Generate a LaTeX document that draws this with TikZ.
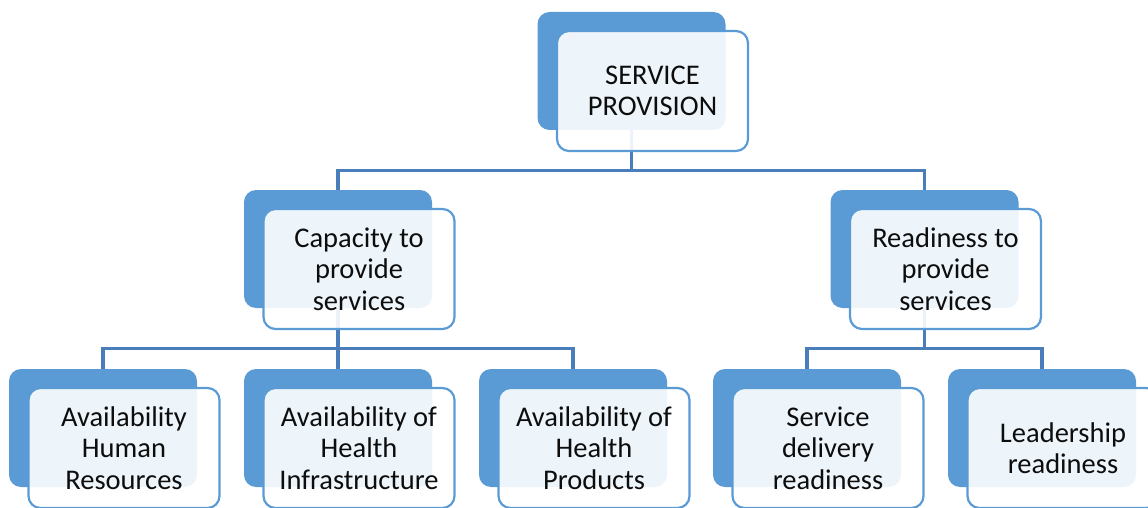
\documentclass[tikz,border=0pt]{standalone}
\usepackage{fontspec}
\setmainfont{Carlito}
\definecolor{boxblue}{HTML}{5B9BD5}
\definecolor{linkblue}{HTML}{4A7EBB}
\definecolor{txtgrey}{HTML}{0D0D0D}
\tikzset{
    backbox/.style={draw=none, fill=boxblue, rounded corners=12pt,
        minimum width=188pt, minimum height=118pt, inner sep=0pt},
    frontbox/.style={draw=boxblue, line width=2.2pt, fill=white, fill opacity=0.9,
        text opacity=1, rounded corners=12pt, minimum width=191pt, minimum height=120pt,
        align=center, text=txtgrey, font=\fontsize{28.5}{31.5}\selectfont},
    link/.style={draw=linkblue, line width=3.2pt}
}
\begin{document}
\begin{tikzpicture}[x=1pt,y=-1pt]
                \useasboundingbox (0,0) rectangle (1148,508);
                \clip (0,0) rectangle (1148,508);

                % back boxes
                \node[backbox] (sp-back) at (631.5,71) {};
                \node[backbox] (cap-back) at (338,249) {};
                \node[backbox] (rdy-back) at (924.5,249) {};
                \node[backbox] (hr-back) at (103,428) {};
                \node[backbox] (inf-back) at (338,428) {};
                \node[backbox] (prod-back) at (573,428) {};
                \node[backbox] (del-back) at (807,428) {};
                \node[backbox] (lead-back) at (1042,428) {};

                % links
                \draw[link] (sp-back.south) -- ++(0,40) -| (cap-back.north);
                \draw[link] (sp-back.south) -- ++(0,40) -| (rdy-back.north);

                \draw[link] (cap-back.south) -- ++(0,40) -| (hr-back.north);
                \draw[link] (cap-back.south) -- ++(0,40) -| (inf-back.north);
                \draw[link] (cap-back.south) -- ++(0,40) -| (prod-back.north);

                \draw[link] (rdy-back.south) -- ++(0,40) -| (del-back.north);
                \draw[link] (rdy-back.south) -- ++(0,40) -| (lead-back.north);

                % front boxes
                \node[frontbox] (sp) at ([shift={(21,20)}]sp-back) {SERVICE\\PROVISION};
                \node[frontbox] (cap) at ([shift={(21,20)}]cap-back) {Capacity to\\provide\\services};
                \node[frontbox] (rdy) at ([shift={(21,20)}]rdy-back) {Readiness to\\provide\\services};
                \node[frontbox] (hr) at ([shift={(21,20)}]hr-back) {Availability\\Human\\Resources};
                \node[frontbox] (inf) at ([shift={(21,20)}]inf-back) {Availability of\\Health\\Infrastructure};
                \node[frontbox] (prod) at ([shift={(21,20)}]prod-back) {Availability of\\Health\\Products};
                \node[frontbox] (del) at ([shift={(21,20)}]del-back) {Service\\delivery\\readiness};
                \node[frontbox] (lead) at ([shift={(21,20)}]lead-back) {Leadership\\readiness};
\end{tikzpicture}
\end{document}
